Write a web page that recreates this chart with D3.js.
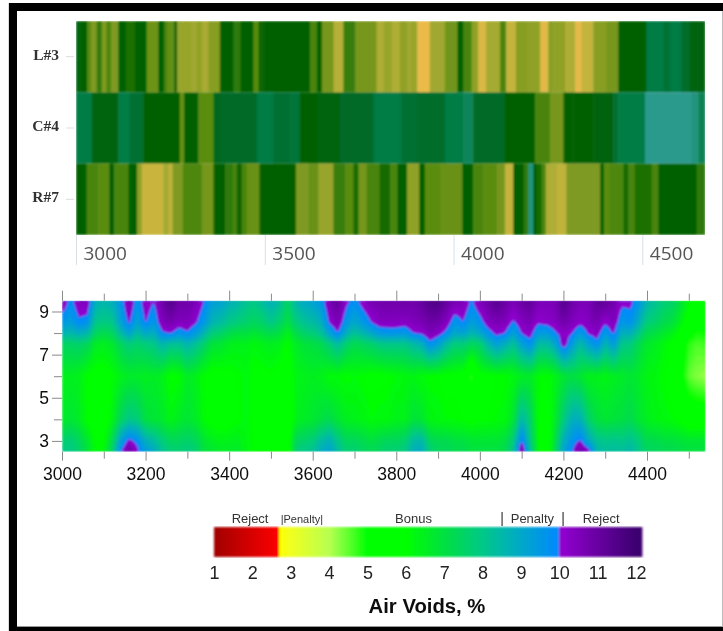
<!DOCTYPE html>
<html>
<head>
<meta charset="utf-8">
<style>
html,body{margin:0;padding:0;background:#fff;}
svg{display:block;}
text{font-family:"Liberation Sans",Arial,sans-serif;}
</style>
<script src="https://cdn.jsdelivr.net/npm/d3@7"></script>
</head>
<body>
<svg id="chart" width="723" height="631"></svg>
<script>
// ---- top panel: thermal strip per lane (start station, air voids estimate)
const laneNames = ["L#3","C#4","R#7"];
const laneTicks = [3000,3500,4000,4500];
const laneEnd = 4666;
const laneLStarts = [3000,3011,3030,3040,3055,3068,3081,3092,3112,3132,3156,3187,3218,3233,3240,3260,3268,3306,3320,3333,3351,3381,3417,3436,3470,3483,3496,3620,3638,3651,3682,3708,3739,3796,3814,3836,3858,3876,3889,3904,3937,3977,4010,4026,4048,4065,4086,4123,4139,4165,4194,4229,4251,4264,4295,4322,4339,4370,4405,4436,4511,4556,4573,4604,4626];
const laneLValues = [6.1,6,5,4.6,5.5,4.6,5.2,4.6,6,5.7,6,4.8,6,5.3,4.9,6,4.3,4.2,4.4,4.1,4.5,6,5.5,6,5,5.9,6,5.2,6,4.7,3.95,5.4,4.7,4.05,4.3,4.05,4.4,4.2,4.3,3.45,4.2,4.75,6,5.2,4.4,3.6,4.15,5.2,3.8,4.5,4.4,3.55,4.5,4.4,4.05,3.5,3.8,4.5,4.7,6,7,6.6,7,6.4,6.1];
const laneCStarts = [3000,3042,3090,3112,3143,3178,3275,3286,3324,3364,3381,3479,3523,3567,3593,3638,3699,3788,3862,3902,3977,4026,4052,4136,4216,4255,4291,4317,4370,4423,4436,4507,4631,4648];
const laneCValues = [7,6.1,6.05,7,6.5,6,4.85,6,5,6.2,6.3,7,6.5,6.7,6,6.1,6.3,7,6.5,6.4,7,7.3,6.3,6,5.2,4.7,6,6,6.05,6.5,7,8,7.8,7.2];
const laneRStarts = [3000,3028,3059,3088,3101,3139,3162,3174,3231,3245,3256,3283,3333,3364,3395,3415,3426,3439,3452,3486,3583,3615,3642,3682,3713,3735,3748,3770,3804,3832,3851,3877,3909,3924,3964,4023,4052,4079,4114,4136,4158,4186,4198,4211,4220,4233,4244,4273,4299,4388,4398,4414,4450,4463,4480,4525,4542,4644];
const laneRValues = [6,5.2,5,6,5.2,6,4.4,3.75,4.15,3.85,4.6,5.15,4.7,6,5.5,5.2,5.9,5.2,4.85,6,4.6,4.85,4.3,5.4,5,5.8,4.7,5.2,5.8,5.2,6,4.4,6,5,4.85,6,5.2,5,4.7,3.8,6,5.5,7.8,6,5.8,5.2,4.05,3.85,4.6,6,5,5.15,5.8,5.2,5.7,5.2,6,5.5];
const laneColorValues = [3.4,3.8,4.2,4.6,5,5.5,6,6.3,7,8];
const laneColors = ["#f0bc4c","#c4b43c","#a0a830","#7f9a20","#5a8c10","#2f7a0a","#006000","#006a28","#007c45","#2a9a8c"];

// ---- lower panel: air voids read at each offset, stations 20 ft apart
const stations = d3.range(3000,4541,20);
const offsets = [9.5,8.5,8,7.5,6,4,3,2.5];
const voids95 = [10.6,9.8,10.4,10.6,8.8,8.6,8.8,9.6,10.7,9.6, 10.4,10,10.9,11.5,10.9,10.9,10.6,10,9.3,9.2, 8.8,8.6,8.2,8,8.4,8.8,8.4,7.5,8.6,9, 9.2,9.6,10.7,11.2,10.2,9.8,10.3,10.7,10.8,10.9, 10.8,11,10.8,11.1,11.5,11.6,11.1,10.7,10.6,9.9, 10.6,11,11.4,11,10.6,11,11.2,10.6,10.6,10.6, 11.5,10.9,10.6,10.6,11.2,11.2,10.8,10.2,10.2,9.6, 8.6,8.2,7.8,7.6,7,6.2,6,6];
const voids85 = [9.6,9.3,9.9,9.7,8,7.9,8,9.2,10.1,9.2, 10.05,9.5,10.5,10.7,10.4,10.5,10.1,9.5,8.6,8.4, 8,7.8,7.6,7.4,7.6,8,7.6,7,7.8,8.2, 8.4,8.8,10.1,10.6,9.5,9,9.5,10,10.4,10.4, 10.4,10.3,10.5,10.6,10.9,10.8,10.4,9.6,10,9.3, 9.7,10.4,10.6,10.5,9.9,10.4,10.6,10.1,10.2,10.4, 10.8,10.5,10.2,10.4,10.7,10.1,10.5,9.5,9.7,8.8, 7.8,7.6,7.2,7,6.4,5.6,5.2,5.4];
const voids80 = [8.7,8.5,8.8,8.6,7.4,7.2,7.4,8.4,9.2,8.4, 9,8.8,9.9,10.05,9.6,9.9,9.4,8.6,7.8,7.6, 7.2,7,7,6.8,7,7.2,7,6.4,7.2,7.6, 7.8,8.2,9.2,10,8.8,8.2,8.6,9,9.5,9.6, 9.6,9.5,10,10.1,10.6,10.3,9.8,9,9.2,8.6, 9,9.7,10.2,10,9.2,10.05,10.3,9.4,9.4,9.9, 10.3,10.05,9.4,10.1,10.3,9.5,10.1,8.8,8.8,8, 7.2,7,6.7,6.4,5.9,5.2,4.9,5];
const voids75 = [7.5,7.5,7.6,7.4,6.6,6.5,6.7,7.4,7.8,7.6, 7.8,8,8.6,8.2,8.2,8.6,8.2,7.6,6.9,6.8, 6.5,6.4,6.4,6.2,6.4,6.5,6.4,6,6.6,6.9, 7,7.2,7.8,8.4,7.6,7.2,7.4,7.6,7.9,8, 8,8,8.4,8.7,9.8,9.3,8.4,7.8,7.8,7.4, 7.6,8.6,9.3,8.8,8.2,9.2,9.8,8.4,8.4,9, 10.5,9.4,8.4,9.2,9.8,8.6,9.4,8,7.9,7.2, 6.7,6.5,6.2,5.9,5.4,4.8,4.6,4.7];
const voids60 = [6.4,6.5,6.4,6,5.8,5.8,6,6.4,6.6,6.6, 6.5,6.6,6.4,5.9,6,6.6,6.4,6,5.8,5.8, 5.9,6,6.2,5.9,5.9,6,5.8,5.7,6.3,6.4, 6.5,6.4,6.1,6.1,6,6.1,6,5.9,5.9,6, 6.1,6.2,6.3,6.1,6,6,5.9,5.9,5.8,4.7, 5.9,5.9,6,6,6.2,6.5,6.6,6.1,6,6.3, 6.8,7,6.8,6.4,6.4,6.3,6.5,6.6,6.8,6.6, 6.3,6.2,6,5.8,5.2,4.5,4.3,4.2];
const voids40 = [6.6,6.8,6.6,6,5.6,5.7,6.3,7.4,8,7.8, 7,6.8,6.7,6.3,6.6,6.8,6.6,6.1,5.8,5.7, 5.8,6,6.2,5.9,5.8,5.8,5.6,5.5,6.4,6.6, 6.7,7,7.2,6.8,6.5,6.4,6.3,6.1,6.2,6.2, 6.4,6.4,6.9,6.8,6.3,6.2,6.1,6.1,6,5.9, 6,6,6.1,6.2,6.8,8.6,7.6,6,5.7,6.6, 7.8,8.8,8.8,7.6,7,6.8,6.9,7,7.2,6.8, 6.5,6.3,6.2,6.1,5.9,5.6,5.5,5.5];
const voids30 = [7.6,7.8,7.4,6.8,6,6,7.2,9.2,10.2,9.8, 8.8,8.4,7.8,7.4,7.4,7.6,7.4,6.8,6.5,6.4, 6.4,6.5,6.2,6,5.9,6,5.6,5.6,7.4,7.6, 7.8,8.4,8.8,8,7.4,7.4,7.2,7,7.2,7.4, 7.4,7.6,8.4,8.6,7.4,7.2,7.2,7,7,6.8, 6.8,6.8,6.8,7,7.8,10.1,8,6.1,5.5,7, 8.8,9.6,10.1,9,8.2,8,8.1,8,8.2,7.8, 7.2,7.2,7,7,6.9,6.8,6.8,6.8];
const voids25 = [7.9,8,7.6,7,6.1,6.2,7.6,9.9,11,10.2, 9.4,9,8.2,7.8,7.7,7.9,7.7,7,6.8,6.6, 6.6,6.7,6.3,6,5.9,6,5.6,5.5,7.8,8, 8.2,8.9,9.2,8.4,7.7,7.7,7.5,7.3,7.5,7.7, 7.7,7.9,8.8,9,7.8,7.4,7.4,7.2,7.2,7, 7,7,7,7.2,8.2,11,8.4,6.2,5.5,7.2, 9.2,9.9,11,10.4,8.6,8.3,8.4,8.3,8.6,8, 7.5,7.4,7.3,7.2,7.1,7,7,7];
const voidRows = [voids95,voids85,voids80,voids75,voids60,voids40,voids30,voids25];
const xMajor = [3000,3200,3400,3600,3800,4000,4200,4400];
const xMinor = [3100,3300,3500,3700,3900,4100,4300,4500];
const yMajor = [9,7,5,3];
const yMinor = [8,6,4];

// ---- colour key
const keyValues = [1,2.7,2.7001,3,4,4.5,5,6,7,8,9,10,10.001,12,12.14];
const keyColors = ["#a00000","#ff0000","#ffff00","#f0ff20","#b8ff50","#60ff30","#00ff00","#00ff00","#00e040","#00c888","#00a8c8","#0088ff","#9400d3","#3c0070","#3c0070"];
const keyTicks = [1,2,3,4,5,6,7,8,9,10,11,12];
const keyBands = ["Reject","|Penalty|","Bonus","|","Penalty","|","Reject"];
const keyBandAt = [1.94,3.29,6.2,8.51,9.3,10.1,11.09];
const keyBandSize = [13,11,13,14,13,14,13];
const keyTitle = "Air Voids, %";

const svg = d3.select("#chart");
const defs = svg.append("defs");
const soft = defs.append("filter").attr("id","soft").attr("x","-2%").attr("y","-2%").attr("width","104%").attr("height","104%");
soft.append("feGaussianBlur").attr("stdDeviation",0.8);
const softH = defs.append("filter").attr("id","softText").attr("x","-5%").attr("y","-5%").attr("width","110%").attr("height","110%");
softH.append("feGaussianBlur").attr("stdDeviation",0.35);

svg.append("rect").attr("width",723).attr("height",631).attr("fill","#fff");

// frame
const frame = svg.append("g").attr("fill","#000");
frame.append("rect").attr("x",9).attr("y",3).attr("width",714).attr("height",8);
frame.append("rect").attr("x",9).attr("y",3).attr("width",8).attr("height",628);
frame.append("rect").attr("x",9).attr("y",627).attr("width",714).attr("height",4);
svg.append("rect").attr("x",722).attr("y",11).attr("width",1).attr("height",616).attr("fill","#bbb");
svg.append("rect").attr("x",8).attr("y",3).attr("width",1).attr("height",628).attr("fill","#ddd");
svg.append("rect").attr("x",17).attr("y",626).attr("width",705).attr("height",1).attr("fill","#999");

// ---- top panel
const xLane = d3.scaleLinear().domain([3000,laneEnd]).range([76,705]);
const yLane = d3.scaleBand().domain(laneNames).range([21,235]);
const laneColor = d3.scaleLinear().domain(laneColorValues).range(laneColors).clamp(true);
defs.append("clipPath").attr("id","laneClip").append("rect")
  .attr("x",xLane.range()[0]).attr("y",yLane.range()[0])
  .attr("width",xLane.range()[1]-xLane.range()[0]).attr("height",yLane.range()[1]-yLane.range()[0]);
const laneData = [[laneLStarts,laneLValues],[laneCStarts,laneCValues],[laneRStarts,laneRValues]];
const laneLayer = svg.append("g").attr("clip-path","url(#laneClip)").append("g").attr("filter","url(#soft)");
laneNames.forEach((name,k)=>{
  const [starts,vals] = laneData[k];
  laneLayer.append("g").selectAll("rect").data(starts).join("rect")
    .attr("x",d=>xLane(d))
    .attr("y",yLane(name))
    .attr("width",(d,i)=>xLane(i+1<starts.length?starts[i+1]:laneEnd)-xLane(d)+0.5)
    .attr("height",yLane.bandwidth())
    .attr("fill",(d,i)=>laneColor(vals[i]));
});
// top axes
const laneAxisX = svg.append("g").attr("transform","translate(0,235)")
  .call(d3.axisBottom(xLane).tickValues(laneTicks).tickSize(30).tickFormat(d3.format("d")));
laneAxisX.select(".domain").remove();
laneAxisX.selectAll("line").attr("stroke","#d6e0e8").attr("stroke-width",1);
laneAxisX.selectAll("text").attr("text-anchor","start").attr("x",7).attr("y",25)
  .attr("dy",0).attr("fill","#555").style("font-family","'Open Sans'").style("font-size","19px");
const laneAxisY = svg.append("g").attr("transform","translate(74,0)")
  .call(d3.axisLeft(yLane).tickSize(8).tickPadding(7));
laneAxisY.select(".domain").remove();
laneAxisY.selectAll("line").attr("stroke","#ddd");
laneAxisY.selectAll("text").attr("dy","0.2em").attr("fill","#333").style("font-family","'Liberation Serif'").style("font-weight","bold").style("font-size","15.5px");

// ---- lower panel
const xMap = d3.scaleLinear().domain([3000,4540]).range([62,705.5]);
const yMap = d3.scaleLinear().domain([2.5,9.5]).range([451.7,300.7]);
const voidColor = d3.scaleLinear().domain(keyValues).range(keyColors).clamp(true);

function voidsAt(station, offset){
  const sx = Math.max(0,Math.min(stations.length-1.0001,(station-stations[0])/20));
  const i = Math.floor(sx), fx = sx-i;
  let r = 0;
  while(r<offsets.length-2 && offset<offsets[r+1]) r++;
  const fy = Math.max(0,Math.min(1,(offsets[r]-offset)/(offsets[r]-offsets[r+1])));
  const a = voidRows[r][i]*(1-fx)+voidRows[r][i+1]*fx;
  const b = voidRows[r+1][i]*(1-fx)+voidRows[r+1][i+1]*fx;
  return a*(1-fy)+b*fy;
}
const gridW = 322, gridH = 76;
const px = xMap.range(), py = yMap.range();
const grid = new Array(gridW*gridH);
for(let j=0;j<gridH;j++){
  const off = yMap.invert(py[1]+(j+0.5)*(py[0]-py[1])/gridH);
  for(let i=0;i<gridW;i++){
    grid[j*gridW+i] = voidsAt(xMap.invert(px[0]+(i+0.5)*(px[1]-px[0])/gridW),off);
  }
}
const levels = [0].concat(d3.range(4,12.01,0.1).map(d=>+d.toFixed(1)));
const contourSets = d3.contours().size([gridW,gridH]).thresholds(levels)(grid);
const toScreen = d3.geoTransform({point(x,y){
  this.stream.point(px[0]+x*(px[1]-px[0])/gridW, py[1]+y*(py[0]-py[1])/gridH);
}});
defs.append("clipPath").attr("id","mapClip").append("rect")
  .attr("x",px[0]).attr("y",py[1]).attr("width",px[1]-px[0]).attr("height",py[0]-py[1]);
svg.append("g").attr("clip-path","url(#mapClip)").append("g").attr("filter","url(#soft)")
  .selectAll("path").data(contourSets).join("path")
  .attr("d",d3.geoPath(toScreen))
  .attr("fill",d=>voidColor(d.value===0?4:d.value+0.05));

function styleMapAxis(g){
  g.select(".domain").remove();
  g.selectAll("line").attr("stroke","#8a8a8a");
  g.selectAll("text").attr("fill","#111").style("font-size","17.5px");
}
svg.append("g").attr("transform",`translate(0,${py[0]})`)
  .call(d3.axisBottom(xMap).tickValues(xMajor).tickSize(9).tickPadding(7).tickFormat(d3.format("d"))).call(styleMapAxis);
svg.append("g").attr("transform",`translate(0,${py[0]})`)
  .call(d3.axisBottom(xMap).tickValues(xMinor).tickSize(7).tickFormat("")).call(styleMapAxis);
svg.append("g").attr("transform",`translate(0,${py[1]})`)
  .call(d3.axisTop(xMap).tickValues(xMajor).tickSize(10).tickFormat("")).call(styleMapAxis);
svg.append("g").attr("transform",`translate(0,${py[1]})`)
  .call(d3.axisTop(xMap).tickValues(xMinor).tickSize(7).tickFormat("")).call(styleMapAxis);
svg.append("g").attr("transform",`translate(${px[0]},0)`)
  .call(d3.axisLeft(yMap).tickValues(yMajor).tickSize(10).tickPadding(3).tickFormat(d3.format("d"))).call(styleMapAxis);
svg.append("g").attr("transform",`translate(${px[0]},0)`)
  .call(d3.axisLeft(yMap).tickValues(yMinor).tickSize(8).tickFormat("")).call(styleMapAxis);

// ---- colour key
const xKey = d3.scaleLinear().domain([1,12]).range([214,636]);
const keyTop = 527, keyBottom = 557;
const keyPixels = d3.range(xKey(1),xKey(12.14),1);
svg.append("g").attr("filter","url(#soft)").selectAll("rect").data(keyPixels).join("rect")
  .attr("x",d=>d).attr("y",keyTop).attr("width",1.4).attr("height",keyBottom-keyTop)
  .attr("fill",d=>voidColor(xKey.invert(d+0.5)));
const keyAxis = svg.append("g").attr("transform",`translate(0,${keyBottom})`)
  .call(d3.axisBottom(xKey).tickValues(keyTicks).tickSize(0).tickPadding(9).tickFormat(d3.format("d")));
keyAxis.select(".domain").remove();
keyAxis.selectAll("text").attr("fill","#222").style("font-size","18px");
svg.append("g").selectAll("text").data(keyBands).join("text")
  .attr("x",(d,i)=>xKey(keyBandAt[i]))
  .attr("y",523)
  .attr("text-anchor","middle")
  .attr("fill","#333")
  .style("font-size",(d,i)=>keyBandSize[i]+"px")
  .text(d=>d);
svg.append("text").attr("x",427).attr("y",612.5).attr("text-anchor","middle")
  .attr("fill","#111").style("font-weight","bold").style("font-size","20.3px").text(keyTitle);
svg.selectAll("g text, svg > text").attr("filter","url(#softText)");
</script>
</body>
</html>
